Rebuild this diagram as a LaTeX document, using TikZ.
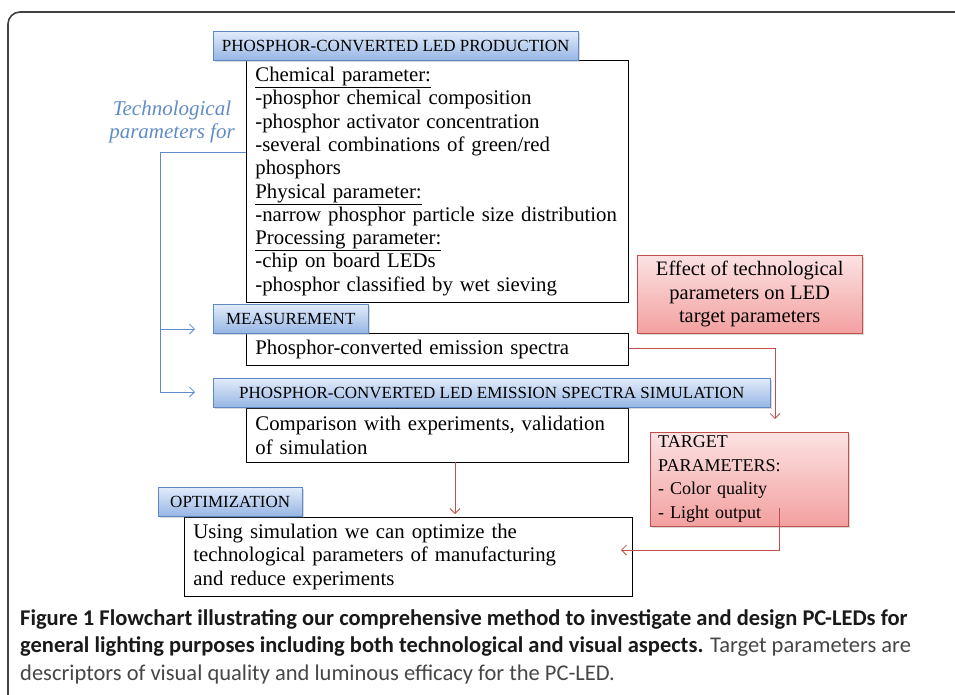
\documentclass[tikz,border=0pt]{standalone}
\usepackage{fontspec}
\setmainfont{Liberation Serif}
\newfontfamily\capfont{Carlito}
\usetikzlibrary{shadows,arrows.meta}

\definecolor{hdline}{RGB}{95,135,195}
\definecolor{hdtop}{RGB}{226,236,250}
\definecolor{hdbot}{RGB}{150,182,228}
\definecolor{rdline}{RGB}{192,80,77}
\definecolor{rdtop}{RGB}{252,226,226}
\definecolor{rdbot}{RGB}{243,160,160}
\definecolor{tpblue}{RGB}{95,140,200}
\definecolor{capgray}{RGB}{70,70,70}

\tikzset{
  hdbox/.style={draw=hdline, top color=hdtop, bottom color=hdbot,
    anchor=north west, minimum height=29pt, inner xsep=4pt,
    font=\fontsize{17}{18}\selectfont,
    drop shadow={opacity=0.3, shadow xshift=1.5pt, shadow yshift=-2pt}},
  txtbox/.style={draw, thick, fill=white, anchor=north west, align=left,
    inner xsep=9pt, inner ysep=0pt, font=\fontsize{20.8}{23.3}\selectfont},
  rdbox/.style={draw=rdline, top color=rdtop, bottom color=rdbot,
    anchor=north west, inner xsep=8pt, font=\fontsize{18}{23.5}\selectfont,
    drop shadow={opacity=0.3, shadow xshift=1.5pt, shadow yshift=-2pt}},
  bluearrow/.style={draw=tpblue, thick, -{Straight Barb[length=5pt,width=10pt]}},
  redarrow/.style={draw=rdline, thick, -{Straight Barb[length=5pt,width=10pt]}}
}

\begin{document}
\begin{tikzpicture}[x=1pt,y=-1pt]
   \useasboundingbox (0,0) rectangle (955,694);
   \clip (0,0) rectangle (955,694);
   % frame
   \draw [black!75,line width=1.6pt,rounded corners=12pt]
      (8,12) rectangle (980,712);

   % boxes
   \node [txtbox,text width=364pt,minimum height=242pt] (prod) at (246,60)
      {\underline{Chemical parameter:}\\
       -phosphor chemical composition\\
       -phosphor activator concentration\\
       -several combinations of green/red\\
       phosphors\\
       \underline{Physical parameter:}\\
       -narrow phosphor particle size distribution\\
       \underline{Processing parameter:}\\
       -chip on board LEDs\\
       -phosphor classified by wet sieving};
   \node [txtbox,text width=364pt,minimum height=32pt] (meas) at (246,333)
      {Phosphor-converted emission spectra};
   \node [txtbox,text width=364pt,minimum height=54pt] (sim) at (246,408)
      {Comparison with experiments, validation\\
       of simulation};
   \node [txtbox,text width=430pt,minimum height=79pt] (opt) at (184,517)
      {Using simulation we can optimize the\\
       technological parameters of manufacturing\\
       and reduce experiments};

   % headers
   \node [hdbox,minimum width=365pt] (prodhd) at (213,31)
      {PHOSPHOR-CONVERTED LED PRODUCTION};
   \node [hdbox,minimum width=155pt] (meashd) at (213,304)
      {MEASUREMENT};
   \node [hdbox,minimum width=557pt] (simhd) at (213,378)
      {PHOSPHOR-CONVERTED LED EMISSION SPECTRA SIMULATION};
   \node [hdbox,minimum width=144pt] (opthd) at (158,487)
      {OPTIMIZATION};

   % target side
   \node [rdbox,minimum width=225pt,minimum height=78pt,align=center,
      font=\fontsize{20.5}{23.5}\selectfont] (effect) at (637,255)
      {Effect of technological\\parameters on LED\\target parameters};
   \node [rdbox,text width=182pt,minimum height=94pt,align=left] (target) at (650,432)
      {TARGET\\PARAMETERS:\\- Color quality\\- Light output};

   \node [font=\itshape\fontsize{21}{23}\selectfont,text=tpblue,align=center] (tech)
      at (172,122) {Technological\\parameters for};

   % connectors
   \coordinate (split) at (160,152);
   \coordinate (measin) at (195,329);
   \coordinate (simin) at (195,392);
   \draw [draw=tpblue,thick] (prod.west |- split) -- (split) -- (split |- simin);
   \draw [bluearrow] (split |- measin) -- (measin);
   \draw [bluearrow] (split |- simin) -- (simin);

   \coordinate (turn) at (775,348);
   \coordinate (tgtin) at (775,419);
   \draw [redarrow] (meas.east |- turn) -- (turn) -- (tgtin);
   \coordinate (tgtout) at (779,508);
   \coordinate (optin) at (621,550);
   \draw [redarrow] (tgtout) -- (tgtout |- optin) -- (optin);
   \coordinate (simout) at (455,462);
   \draw [redarrow] (simout) -- (455,514);

   % caption
   \node [anchor=north west,align=left,inner sep=0pt,text=black!90,
      font=\capfont\fontsize{22.5}{27.5}\selectfont] (cap) at (20,609)
      {\textbf{Figure 1 Flowchart illustrating our comprehensive method to investigate and design PC-LEDs for}\\
       \textbf{general lighting purposes including both technological and visual aspects.}
       \textcolor{capgray}{Target parameters are}\\
       \textcolor{capgray}{descriptors of visual quality and luminous efficacy for the PC-LED.}};
\end{tikzpicture}
\end{document}
